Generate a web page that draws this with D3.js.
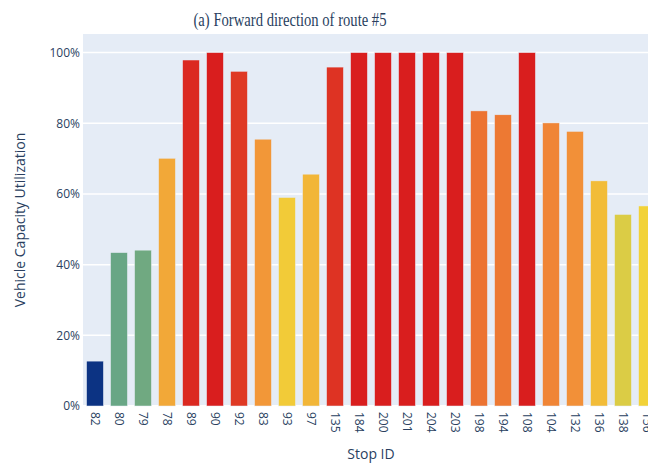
<!DOCTYPE html>
<html>
<head>
<meta charset="utf-8">
<script src="https://cdn.jsdelivr.net/npm/d3@7"></script>
<style>
  html, body { margin: 0; padding: 0; background: #fff; overflow: hidden; }
  svg { display: block; }
</style>
</head>
<body>
<script>
// Stop IDs along the forward direction of route #5
const stops = ["82","80","79","78","89","90","92","83","93","97","135","184",
               "200","201","204","203","198","194","108","104","132","136","138","156"];
// Vehicle capacity utilization at each stop (%)
const utilization = [12.7, 43.4, 44.1, 70.1, 97.9, 100, 94.7, 75.5, 59.0, 65.6, 95.9, 100,
                     100, 100, 100, 100, 83.5, 82.4, 100, 80.1, 77.7, 63.7, 54.2, 56.6];
const yTicks = [0, 20, 40, 60, 80, 100];

// Portland colour scale stops
const portland = ["rgb(12,51,131)", "rgb(10,136,186)", "rgb(242,211,56)", "rgb(242,143,56)", "rgb(217,30,30)"];

const W = 648, H = 463;
const margin = { left: 83, top: 34, bottom: 57 };
const plotW = 576;
const plotH = H - margin.top - margin.bottom;

const svg = d3.select("body").append("svg").attr("width", W).attr("height", H);

const x = d3.scaleBand().domain(stops).range([margin.left, margin.left + plotW]).paddingInner(0.3).paddingOuter(0.15);
const y = d3.scaleLinear().domain([0, 105.26]).range([margin.top + plotH, margin.top]);

const vMin = d3.min(utilization), vMax = d3.max(utilization);
const color = d3.scaleLinear()
  .domain(d3.range(5).map(i => vMin + (vMax - vMin) * i / 4))
  .range(portland)
  .interpolate(d3.interpolateRgb);

// plot background
svg.append("rect")
  .attr("x", margin.left).attr("y", margin.top)
  .attr("width", plotW).attr("height", plotH)
  .attr("fill", "#E5ECF6");

// gridlines
svg.append("g").selectAll("line").data(yTicks.filter(t => t > 0)).join("line")
  .attr("x1", margin.left).attr("x2", margin.left + plotW)
  .attr("y1", d => y(d)).attr("y2", d => y(d))
  .attr("stroke", "#fff").attr("stroke-width", 1.5);
svg.append("line")
  .attr("x1", margin.left).attr("x2", margin.left + plotW)
  .attr("y1", y(0)).attr("y2", y(0))
  .attr("stroke", "#fff").attr("stroke-width", 2);

// bars
svg.append("g").selectAll("rect").data(stops).join("rect")
  .attr("x", (d) => x(d))
  .attr("width", x.bandwidth())
  .attr("y", (d, i) => y(utilization[i]))
  .attr("height", (d, i) => y(0) - y(utilization[i]))
  .attr("fill", (d, i) => color(utilization[i]))
  .attr("stroke", "#E5ECF6").attr("stroke-width", 0.5);

const tickColor = "#2a3f5f";
const sans = "'Open Sans', 'Noto Sans', sans-serif";

// y axis
const yAxis = d3.axisLeft(y).tickValues(yTicks).tickFormat(d => d + "%").tickSize(0).tickPadding(3);
const gy = svg.append("g").attr("transform", `translate(${margin.left},0)`).call(yAxis);
gy.select(".domain").remove();
gy.selectAll("text").attr("fill", tickColor).style("font-family", sans).style("font-size", "12px");

// x axis, labels rotated
const xAxis = d3.axisBottom(x).tickSize(0).tickPadding(0);
const gx = svg.append("g").attr("transform", `translate(0,${y(0)})`).call(xAxis);
gx.select(".domain").remove();
gx.selectAll("text")
  .attr("fill", tickColor).style("font-family", sans).style("font-size", "12px")
  .attr("text-anchor", "start")
  .attr("dy", "0.35em")
  .attr("transform", "translate(0,6) rotate(90)")
  .attr("x", 0).attr("y", 0);

// axis titles
svg.append("text")
  .attr("x", margin.left + plotW / 2).attr("y", 459)
  .attr("text-anchor", "middle")
  .attr("fill", tickColor).style("font-family", sans).style("font-size", "14px")
  .text("Stop ID");
svg.append("text")
  .attr("transform", `translate(25,${margin.top + plotH / 2}) rotate(-90)`)
  .attr("text-anchor", "middle")
  .attr("fill", tickColor).style("font-family", sans).style("font-size", "14px")
  .text("Vehicle Capacity Utilization");

// chart title
svg.append("text")
  .attr("x", 290).attr("y", 26)
  .attr("text-anchor", "middle")
  .attr("fill", tickColor)
  .attr("textLength", 193).attr("lengthAdjust", "spacingAndGlyphs")
  .style("font-family", "'Liberation Serif', serif").style("font-size", "18px")
  .text("(a) Forward direction of route #5");
</script>
</body>
</html>
